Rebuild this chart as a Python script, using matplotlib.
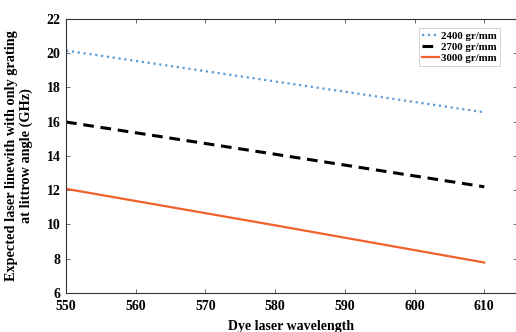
import matplotlib
matplotlib.use('Agg')
import matplotlib.pyplot as plt

# values
wavelength = [550, 580, 610]
lw_2400 = [20.15, 18.35, 16.55]
lw_2700 = [15.98, 14.1, 12.2]
lw_3000 = [12.08, 9.95, 7.78]
labels = ['2400 gr/mm', '2700 gr/mm', '3000 gr/mm']

plt.rcParams['font.family'] = ['Liberation Serif', 'DejaVu Serif']
plt.rcParams['font.weight'] = 'bold'

fig = plt.figure(figsize=(5.16, 3.32), dpi=100)
ax = fig.add_axes([0.128, 0.1175, 0.874, 0.8255])

ax.plot(wavelength, lw_2400, ':', color='#5b9bd5', lw=1.6, label=labels[0])
ax.plot(wavelength, lw_2700, '--', color='black', lw=2.2, dashes=(3.5, 2.2), label=labels[1])
ax.plot(wavelength, lw_3000, '-', color='#f0612b', lw=1.6, label=labels[2])

ax.set_xlim(550, 614.7)
ax.set_ylim(6, 22)
ax.set_xticks([550, 560, 570, 580, 590, 600, 610])
ax.set_yticks(range(6, 23, 2))
ax.tick_params(direction='in', top=True, right=True, labelsize=10, length=3, width=0.6, color='#555555')
ax.tick_params(axis='x', pad=5)
ax.tick_params(axis='y', pad=4)
for s in ax.spines.values():
    s.set_linewidth(0.8)
    s.set_color('#333333')

ax.set_xlabel('Dye laser wavelength', fontsize=10, fontweight='bold', labelpad=5)
ax.set_ylabel('Expected laser linewith with only grating\nat littrow angle (GHz)',
              fontsize=10.3, fontweight='bold', linespacing=1.15)
ax.yaxis.set_label_coords(-0.074, 0.5)

leg = ax.legend(loc='upper right', bbox_to_anchor=(0.975, 0.985), fontsize=7.8,
                handlelength=1.6, handletextpad=0.2, borderpad=0.3, labelspacing=0.12,
                fancybox=False, framealpha=1, edgecolor='#cccccc')
leg.get_frame().set_linewidth(0.6)

fig.savefig('out.png', dpi=100)
